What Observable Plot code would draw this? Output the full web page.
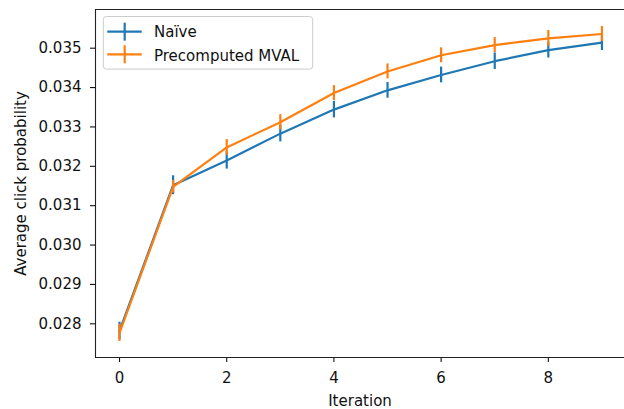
<!DOCTYPE html>
<html>
<head>
<meta charset="utf-8">
<script src="https://cdn.jsdelivr.net/npm/d3@7"></script>
<script src="https://cdn.jsdelivr.net/npm/@observablehq/plot@0.6"></script>
<style>
  html, body { margin: 0; padding: 0; background: white; }
</style>
</head>
<body>
<div id="chart"></div>
<script>
// ---- data ----
const iterations = [0, 1, 2, 3, 4, 5, 6, 7, 8, 9];
const naive = [0.02782, 0.03152, 0.03215, 0.03283, 0.03344, 0.03393, 0.03432, 0.03467, 0.03495, 0.03514];
const naiveErr = [0.00022, 0.00024, 0.00022, 0.00021, 0.00021, 0.0002, 0.0002, 0.00021, 0.0002, 0.0002];
const precomputed = [0.02777, 0.03148, 0.03248, 0.03312, 0.03386, 0.03441, 0.03482, 0.03508, 0.03525, 0.03536];
const precomputedErr = [0.00022, 0.00016, 0.0002, 0.00019, 0.00019, 0.00019, 0.00019, 0.00019, 0.0002, 0.00019];
const seriesNames = ["Naïve", "Precomputed MVAL"];
const seriesColors = ["#1f77b4", "#ff7f0e"];
const xTicks = [0, 2, 4, 6, 8];
const yTicks = [0.028, 0.029, 0.030, 0.031, 0.032, 0.033, 0.034, 0.035];
const xDomain = [-0.448, 9.421];
const yDomain = [0.027144, 0.035983];

const rows = (vals, errs, name) => iterations.map((it, i) => ({iter: it, v: vals[i], e: errs[i], series: name}));
const dataNaive = rows(naive, naiveErr, seriesNames[0]);
const dataPre = rows(precomputed, precomputedErr, seriesNames[1]);

const FONT = "DejaVu Sans";
const FS = 15;
const LW = 2.2;

function legend(index, scales, values, dimensions) {
  const g = d3.create("svg:g");
  const x0 = dimensions.marginLeft;
  const y0 = dimensions.marginTop;
  g.append("rect")
    .attr("x", x0 + 8.3).attr("y", y0 + 7.5)
    .attr("width", 209.4).attr("height", 52.6)
    .attr("rx", 3).attr("ry", 3)
    .attr("fill", "white").attr("fill-opacity", 0.8)
    .attr("stroke", "#cccccc").attr("stroke-width", 1);
  seriesNames.forEach((name, i) => {
    const cy = y0 + 22.7 + i * 22.6;
    g.append("line")
      .attr("x1", x0 + 12.3).attr("x2", x0 + 46.7)
      .attr("y1", cy).attr("y2", cy)
      .attr("stroke", seriesColors[i]).attr("stroke-width", LW);
    g.append("line")
      .attr("x1", x0 + 29.7).attr("x2", x0 + 29.7)
      .attr("y1", cy - 9).attr("y2", cy + 9)
      .attr("stroke", seriesColors[i]).attr("stroke-width", LW);
    g.append("text")
      .attr("x", x0 + 59).attr("y", y0 + 28.3 + i * 23.7)
      .attr("text-anchor", "start")
      .attr("font-family", FONT).attr("font-size", FS)
      .attr("fill", "#111")
      .text(name);
  });
  return g.node();
}

const plot = Plot.plot({
  width: 624,
  height: 409,
  marginLeft: 95,
  marginRight: 0,
  marginTop: 9,
  marginBottom: 52,
  style: {fontFamily: FONT, fontSize: FS + "px", color: "#111", background: "white", overflow: "visible"},
  x: {domain: xDomain},
  y: {domain: yDomain},
  marks: [
    Plot.axisX({ticks: xTicks, tickFormat: d => String(d), tickSize: 5, tickPadding: 9.5,
      fontSize: FS, label: "Iteration", labelAnchor: "center", labelOffset: 48, labelArrow: "none", strokeWidth: 1.1}),
    Plot.axisY({ticks: yTicks, tickFormat: d3.format(".3f"), tickSize: 5, tickPadding: 9,
      fontSize: FS, label: "Average click probability", labelAnchor: "center", labelOffset: 80, labelArrow: "none", strokeWidth: 1.1}),
    Plot.ruleY([yDomain[0]], {stroke: "#222", strokeWidth: 1.1}),
    Plot.ruleY([yDomain[1]], {stroke: "#222", strokeWidth: 1.1}),
    Plot.ruleX([xDomain[0]], {stroke: "#222", strokeWidth: 1.1}),
    Plot.line(dataNaive, {x: "iter", y: "v", stroke: seriesColors[0], strokeWidth: LW}),
    Plot.ruleX(dataNaive, {x: "iter", y1: d => d.v - d.e, y2: d => d.v + d.e, stroke: seriesColors[0], strokeWidth: LW}),
    Plot.line(dataPre, {x: "iter", y: "v", stroke: seriesColors[1], strokeWidth: LW}),
    Plot.ruleX(dataPre, {x: "iter", y1: d => d.v - d.e, y2: d => d.v + d.e, stroke: seriesColors[1], strokeWidth: LW}),
    legend
  ]
});
document.getElementById("chart").appendChild(plot);
</script>
</body>
</html>
